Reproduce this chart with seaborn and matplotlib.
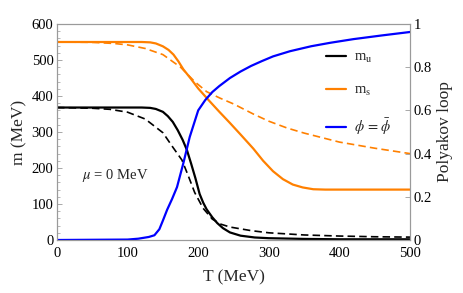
import matplotlib
matplotlib.use("Agg")
import matplotlib.pyplot as plt
from matplotlib.ticker import AutoMinorLocator
from matplotlib.lines import Line2D
import seaborn as sns

# ---- data ----
T_mu = [0, 50, 100, 120, 132, 140, 150, 157, 164, 171, 178, 184, 190, 196, 202, 207, 212, 220, 227, 235, 245, 260, 280, 300, 350, 400, 450, 500]
mu_solid = [368, 368, 368, 368, 367, 364, 356, 344, 328, 305, 278, 250, 212, 172, 128, 104, 85, 63, 47, 33, 21, 12, 7, 5, 3, 2, 2, 2]

T_mud = [0, 50, 75, 100, 125, 150, 164, 177, 186, 195, 207, 220, 232, 245, 275, 300, 350, 400, 450, 500]
mu_dash = [368, 366, 363, 355, 336, 298, 258, 222, 178, 132, 88, 58, 44, 36, 26, 20, 14, 11, 9, 8]

T_ms = [0, 100, 120, 132, 140, 150, 158, 165, 172, 179, 190, 200, 215, 230, 245, 260, 278, 292, 306, 320, 334, 348, 363, 380, 400, 450, 500]
ms_solid = [550, 550, 550, 549, 546, 538, 528, 515, 496, 474, 447, 421, 388, 356, 325, 293, 254, 220, 191, 169, 154, 146, 141, 140, 140, 140, 140]

T_msd = [0, 50, 80, 100, 125, 150, 175, 195, 212, 231, 250, 278, 300, 326, 350, 372, 400, 450, 500]
ms_dash = [550, 549, 546, 542, 532, 515, 480, 440, 412, 394, 378, 350, 330, 311, 297, 286, 272, 255, 240]

T_phi = [0, 100, 115, 130, 138, 145, 150, 156, 163, 170, 179, 188, 200, 210, 220, 230, 245, 260, 275, 290, 306, 330, 360, 387, 420, 460, 500]
phi = [0.0, 0.002, 0.006, 0.014, 0.022, 0.05, 0.09, 0.14, 0.19, 0.245, 0.356, 0.477, 0.60, 0.648, 0.685, 0.713, 0.750, 0.780, 0.806, 0.828, 0.850, 0.874, 0.897, 0.913, 0.930, 0.947, 0.963]

x_ticks = [0, 100, 200, 300, 400, 500]
y_ticks = [0, 100, 200, 300, 400, 500, 600]
y2_ticks = [0, 0.2, 0.4, 0.6, 0.8, 1.0]
y2_labels = ["0", "0.2", "0.4", "0.6", "0.8", "1"]

# ---- style ----
sns.set_theme(style="white")
plt.rcParams["font.family"] = ["Liberation Serif", "DejaVu Serif"]
plt.rcParams["mathtext.fontset"] = "stix"

ORANGE = "#FF8000"
BLUE = "#0000FF"
GRAY = "#9a9a9a"

fig = plt.figure(figsize=(4.63, 2.93), dpi=100)
ax = fig.add_axes([57 / 463, 53 / 293, 353 / 463, 216 / 293])
ax2 = ax.twinx()

sns.lineplot(x=T_mu, y=mu_solid, ax=ax, color="black", lw=1.6, sort=False)
sns.lineplot(x=T_mud, y=mu_dash, ax=ax, color="black", lw=1.2, sort=False)
ax.lines[-1].set_dashes([4.5, 2.5])
sns.lineplot(x=T_ms, y=ms_solid, ax=ax, color=ORANGE, lw=1.6, sort=False)
sns.lineplot(x=T_msd, y=ms_dash, ax=ax, color=ORANGE, lw=1.2, sort=False)
ax.lines[-1].set_dashes([4.5, 2.5])
sns.lineplot(x=T_phi, y=phi, ax=ax2, color=BLUE, lw=1.6, sort=False)

ax.set_xlim(0, 500)
ax.set_ylim(0, 600)
ax2.set_ylim(0, 1)

ax.set_xticks(x_ticks)
ax.set_yticks(y_ticks)
ax2.set_yticks(y2_ticks)
ax2.set_yticklabels(y2_labels)
ax.xaxis.set_minor_locator(AutoMinorLocator(5))
ax.yaxis.set_minor_locator(AutoMinorLocator(5))

for a in (ax, ax2):
    for s in a.spines.values():
        s.set_color(GRAY)
        s.set_linewidth(0.8)
    a.grid(False)

ax.tick_params(axis="both", which="major", direction="in", length=3.5, width=0.6,
               color=GRAY, labelsize=10.5, labelcolor="black", pad=2.5)
ax.tick_params(axis="x", which="major", pad=5)
ax.tick_params(axis="both", which="minor", direction="in", length=2, width=0.5, color=GRAY)
ax.tick_params(axis="x", which="both", top=False)
ax.tick_params(axis="y", which="both", right=False)
ax2.tick_params(axis="y", which="major", direction="in", length=3.5, width=0.6,
                color=GRAY, labelsize=10.5, labelcolor="black", pad=2.5)

ax.set_xlabel("T (MeV)", fontsize=12.5, labelpad=7)
ax.set_ylabel("m (MeV)", fontsize=12.5, labelpad=3)
ax2.set_ylabel("Polyakov loop", fontsize=12.5, labelpad=4)

ax.text(82, 180, r"$\mu$ = 0 MeV", fontsize=10.5, ha="center", va="center")

handles = [Line2D([], [], color="black", lw=1.6),
           Line2D([], [], color=ORANGE, lw=1.6),
           Line2D([], [], color=BLUE, lw=1.6)]
labels = [r"m$_{\rm u}$", r"m$_{\rm s}$", r"$\phi\,=\,\bar{\phi}$"]
ax2.legend(handles, labels, loc="upper left", bbox_to_anchor=(0.762, 0.875),
           frameon=False, fontsize=10.5, handlelength=1.35, handletextpad=0.6,
           labelspacing=1.25, borderpad=0, borderaxespad=0)

fig.savefig("out.png", dpi=100)
